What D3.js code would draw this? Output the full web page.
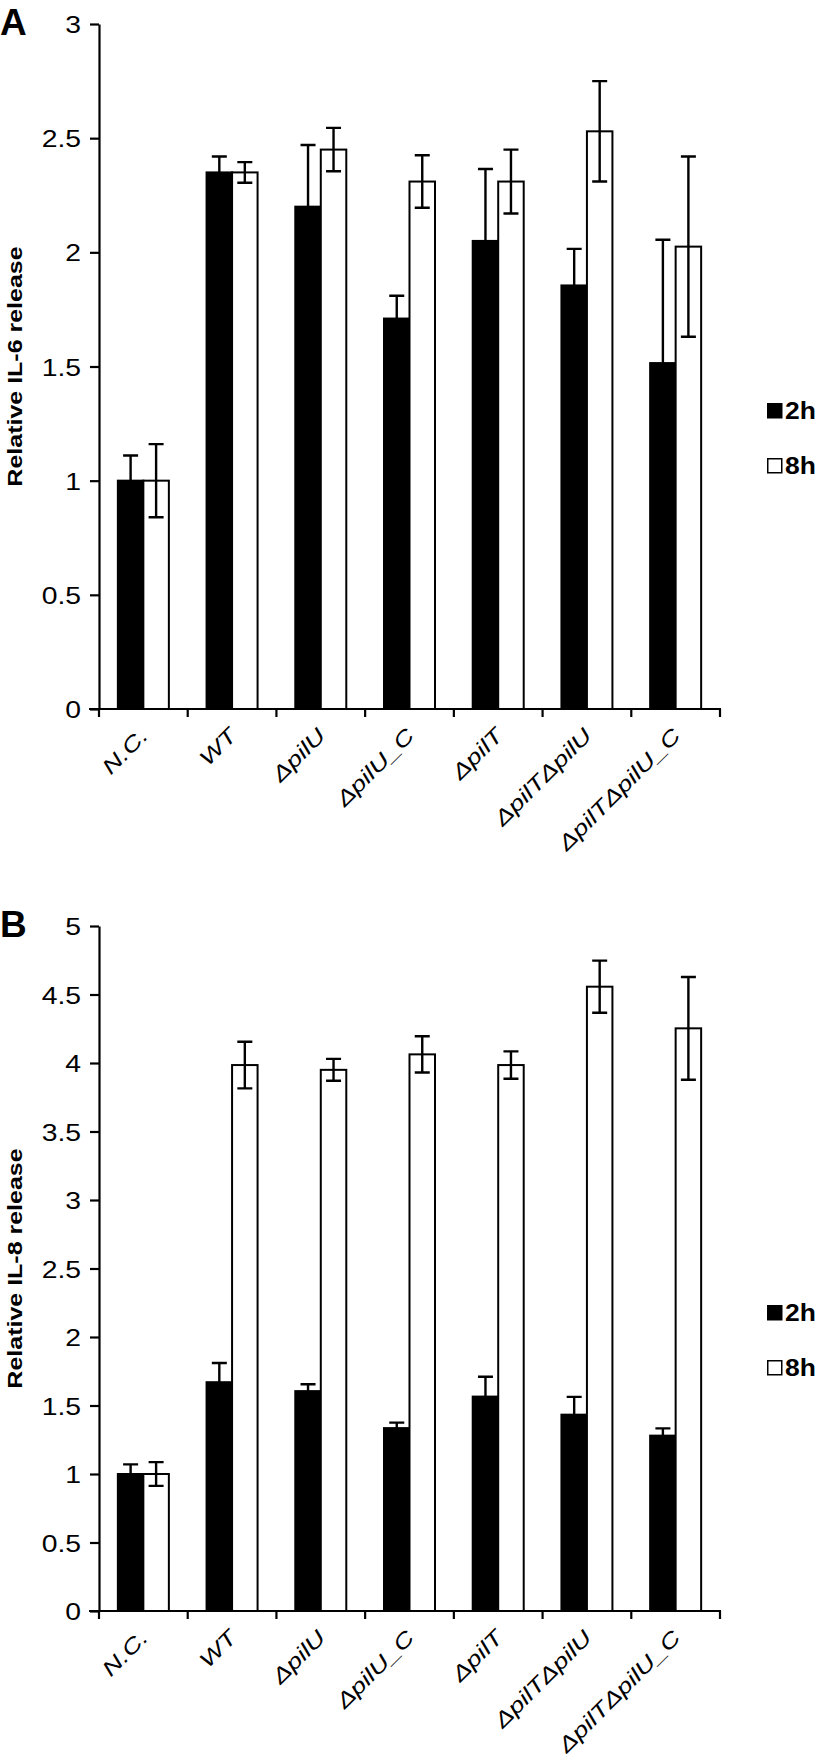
<!DOCTYPE html>
<html><head><meta charset="utf-8">
<script src="https://cdn.jsdelivr.net/npm/d3@7"></script>
<style>
html,body{margin:0;padding:0;background:#fff;}
svg{display:block;}
text{font-family:"Liberation Sans",Arial,sans-serif;fill:#000;}
</style></head>
<body>
<svg id="chart" width="816" height="1760"></svg>
<script>
// ---------- data ----------
const categories = ["N.C.", "WT", "ΔpilU", "ΔpilU_C", "ΔpilT", "ΔpilTΔpilU", "ΔpilTΔpilU_C"];
const seriesNames = ["2h", "8h"];

const il6_2h     = [1.00, 2.35, 2.20, 1.71, 2.05, 1.855, 1.515];
const il6_2h_err = [0.11, 0.07, 0.27, 0.10, 0.315, 0.16, 0.54];
const il6_8h     = [1.00, 2.35, 2.45, 2.31, 2.31, 2.53, 2.025];
const il6_8h_err = [0.16, 0.045, 0.095, 0.115, 0.14, 0.22, 0.395];

const il8_2h     = [1.00, 1.67, 1.605, 1.335, 1.565, 1.433, 1.28];
const il8_2h_err = [0.07, 0.14, 0.05, 0.04, 0.145, 0.13, 0.053];
const il8_8h     = [1.00, 3.985, 3.95, 4.063, 3.985, 4.557, 4.253];
const il8_8h_err = [0.087, 0.17, 0.08, 0.132, 0.1, 0.19, 0.375];

const ticksA = [0, 0.5, 1, 1.5, 2, 2.5, 3];
const tickLabelsA = ["0", "0.5", "1", "1.5", "2", "2.5", "3"];
const ticksB = [0, 0.5, 1, 1.5, 2, 2.5, 3, 3.5, 4, 4.5, 5];
const tickLabelsB = ["0", "0.5", "1", "1.5", "2", "2.5", "3", "3.5", "4", "4.5", "5"];

// ---------- drawing ----------
const svg = d3.select("#chart");

function panel(opts) {
  const g = svg.append("g");
  const x0 = d3.scaleBand().domain(categories).range([99, 720]);
  const barW = 25.5;
  const x1 = d3.scaleBand().domain(seriesNames)
    .range([x0.bandwidth() / 2 - barW, x0.bandwidth() / 2 + barW]);
  const y = d3.scaleLinear().domain([0, opts.max]).range([opts.bottom, opts.top]);

  const rows = categories.map((c, i) => ({
    cat: c,
    vals: [
      {s: "2h", v: opts.v2[i], e: opts.e2[i]},
      {s: "8h", v: opts.v8[i], e: opts.e8[i]}
    ]
  }));

  // bars
  const grp = g.selectAll("g.grp").data(rows).enter().append("g")
    .attr("transform", d => `translate(${x0(d.cat)},0)`);
  grp.selectAll("rect").data(d => d.vals).enter().append("rect")
    .attr("x", d => x1(d.s))
    .attr("width", x1.bandwidth())
    .attr("y", d => y(d.v))
    .attr("height", d => y(0) - y(d.v))
    .attr("fill", d => d.s === "2h" ? "#000" : "#fff")
    .attr("stroke", "#000")
    .attr("stroke-width", 2);

  // error bars
  const cap = 7.5;
  grp.selectAll("path.err").data(d => d.vals).enter().append("path")
    .attr("class", "err")
    .attr("d", d => {
      const cx = x1(d.s) + x1.bandwidth() / 2;
      const yt = y(d.v + d.e), yb = y(d.v - d.e);
      return `M${cx},${yt}V${yb}M${cx - cap},${yt}H${cx + cap}M${cx - cap},${yb}H${cx + cap}`;
    })
    .attr("stroke", "#000").attr("stroke-width", 2.4).attr("fill", "none");

  // y axis
  const yAxis = d3.axisLeft(y).tickValues(opts.ticks)
    .tickFormat((d, i) => opts.tickLabels[i]).tickSize(9).tickSizeOuter(0);
  const ya = g.append("g").attr("transform", "translate(99,0)").call(yAxis);
  ya.select(".domain").attr("stroke-width", 2.2);
  ya.selectAll(".tick line").attr("stroke-width", 2.2);
  ya.selectAll(".tick text")
    .attr("x", 0).attr("dy", "0.36em")
    .attr("transform", "translate(-18,0) scale(1.18,1)")
    .style("font-size", "24px").style("font-family", "'Liberation Sans', Arial, sans-serif");

  // x axis line with ticks at band boundaries
  const bounds = categories.map(c => x0(c)).concat([x0.range()[1]]);
  g.append("line").attr("x1", x0.range()[0] - 10).attr("x2", x0.range()[1] + 1)
    .attr("y1", y(0)).attr("y2", y(0)).attr("stroke", "#000").attr("stroke-width", 2.2);
  g.selectAll("line.xt").data(bounds).enter().append("line")
    .attr("x1", d => d).attr("x2", d => d)
    .attr("y1", y(0)).attr("y2", y(0) + 8)
    .attr("stroke", "#000").attr("stroke-width", 2.2);

  // x labels
  g.selectAll("text.xl").data(categories).enter().append("text")
    .attr("text-anchor", "end")
    .attr("transform", c => `translate(${x0(c) + x0.bandwidth() / 2 + 6},${y(0) + 28}) rotate(-45) scale(1.3,1)`)
    .style("font-size", "21px").style("font-style", "italic")
    .text(c => c);

  // y title
  g.append("text")
    .attr("text-anchor", "middle")
    .attr("transform", `translate(22,${(opts.top + opts.bottom) / 2}) rotate(-90) scale(1.25,1)`)
    .style("font-size", "20px").style("font-weight", "bold")
    .text(opts.title);

  // panel letter
  g.append("text").attr("x", 0).attr("y", opts.top + 11)
    .style("font-size", "37px").style("font-weight", "bold").text(opts.letter);

  // legend
  const lg = g.append("g").attr("transform", `translate(767,${opts.legendY})`);
  lg.selectAll("rect").data(seriesNames).enter().append("rect")
    .attr("x", 0.75).attr("y", (d, i) => i * 55 + 0.75)
    .attr("width", 14).attr("height", 14)
    .attr("fill", d => d === "2h" ? "#000" : "#fff")
    .attr("stroke", "#000").attr("stroke-width", 1.5);
  lg.selectAll("text").data(seriesNames).enter().append("text")
    .attr("transform", (d, i) => `translate(18,${i * 55 + 16}) scale(1.15,1)`)
    .style("font-size", "23px").style("font-weight", "bold")
    .text(d => d);
}

panel({
  top: 24, bottom: 709, max: 3, ticks: ticksA, tickLabels: tickLabelsA,
  v2: il6_2h, e2: il6_2h_err, v8: il6_8h, e8: il6_8h_err,
  title: "Relative IL-6 release", letter: "A", legendY: 403
});
panel({
  top: 926, bottom: 1611, max: 5, ticks: ticksB, tickLabels: tickLabelsB,
  v2: il8_2h, e2: il8_2h_err, v8: il8_8h, e8: il8_8h_err,
  title: "Relative IL-8 release", letter: "B", legendY: 1305
});
</script>
</body></html>
